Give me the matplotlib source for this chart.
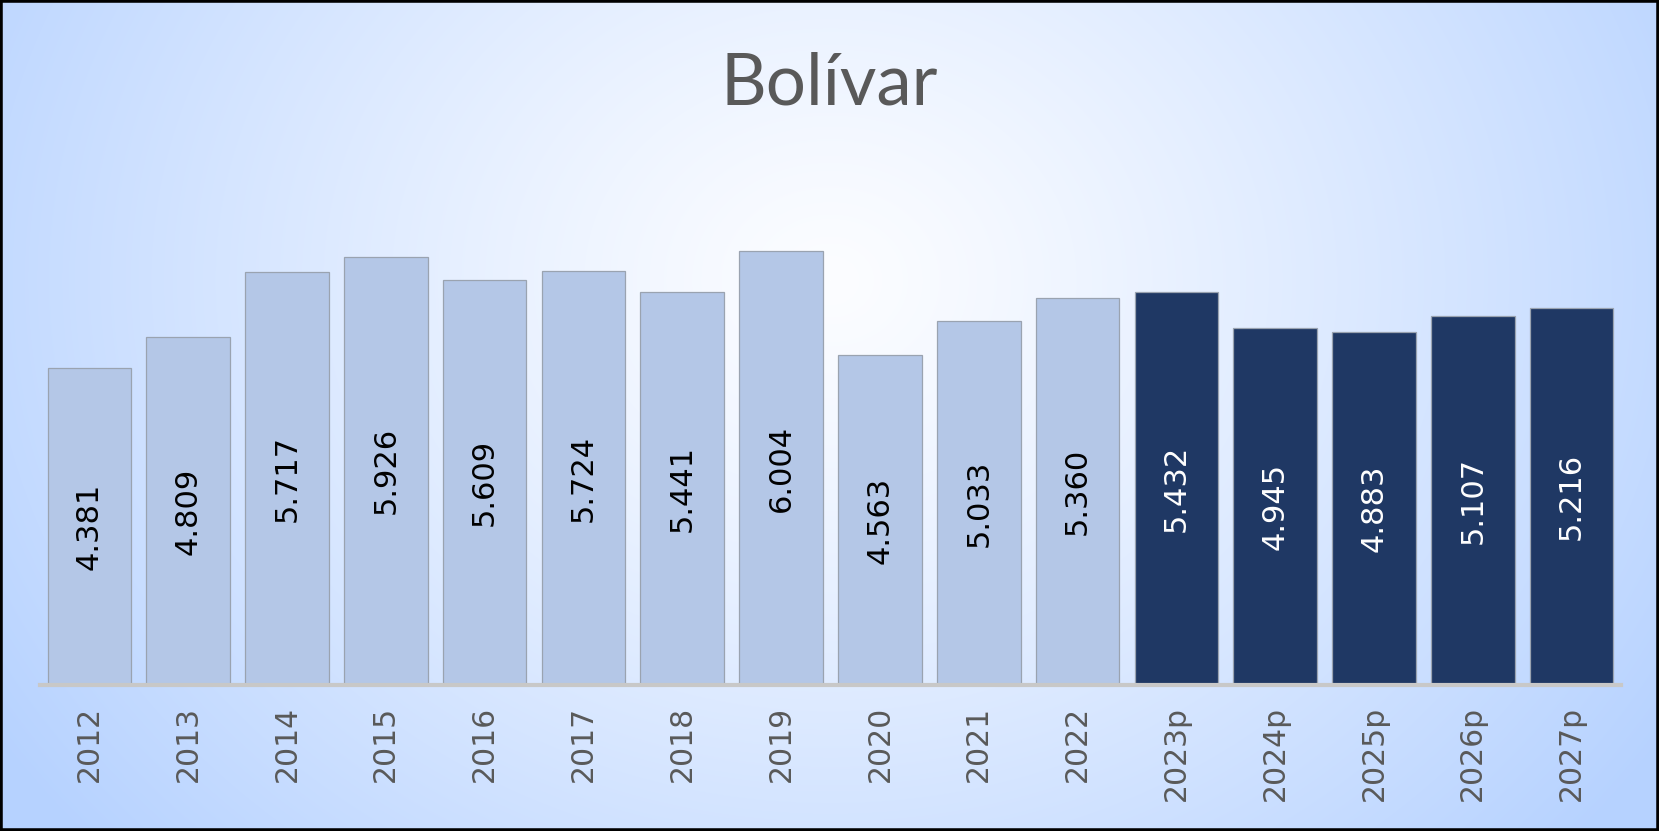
import numpy as np
import matplotlib
matplotlib.use("Agg")
from matplotlib import pyplot as plt
from matplotlib.patches import Rectangle

# data
years = ["2012", "2013", "2014", "2015", "2016", "2017", "2018", "2019",
         "2020", "2021", "2022", "2023p", "2024p", "2025p", "2026p", "2027p"]
values = [4.381, 4.809, 5.717, 5.926, 5.609, 5.724, 5.441, 6.004,
          4.563, 5.033, 5.360, 5.432, 4.945, 4.883, 5.107, 5.216]
projected = [False] * 11 + [True] * 5

light = "#B4C7E7"
dark = "#1F3864"

fig = plt.figure(figsize=(16.59, 8.31), dpi=100)

# background radial gradient
bg = fig.add_axes([0, 0, 1, 1])
h, w = 831, 1659
yy, xx = np.mgrid[0:h, 0:w]
r = np.sqrt(((xx - 830) / 1000.0) ** 2 + ((yy - 280) / 850.0) ** 2)
r = np.clip(r, 0, 1) ** 1.2
c0 = np.array([252, 253, 255]) / 255.0
c1 = np.array([182, 210, 255]) / 255.0
img = c0[None, None, :] * (1 - r[..., None]) + c1[None, None, :] * r[..., None]
bg.imshow(img, aspect="auto", extent=[0, 1, 0, 1], origin="upper")
bg.set_xlim(0, 1)
bg.set_ylim(0, 1)
bg.axis("off")

ax = fig.add_axes([40 / 1659, 1 - 685 / 831, (1621 - 40) / 1659, (685 - 130) / 831])
ax.patch.set_alpha(0)

x = np.arange(len(years))
colors = [dark if p else light for p in projected]
ax.bar(x, values, width=0.846, color=colors, edgecolor="#9AA3B0", linewidth=0.9, zorder=2)

for xi, v, p in zip(x, values, projected):
    ax.text(xi, v / 2, f"{v:.3f}", rotation=90, ha="center", va="center",
            fontsize=22, color="white" if p else "black", family="DejaVu Sans", zorder=3)

ax.set_xlim(-0.5, len(years) - 0.5)
ax.set_ylim(0, 7.68)
ax.set_yticks([])
ax.set_xticks(x)
ax.set_xticklabels(years, rotation=90, fontsize=21.5, color="#595959")
ax.tick_params(axis="x", length=0, pad=15)
for s in ["top", "right", "left"]:
    ax.spines[s].set_visible(False)
ax.spines["bottom"].set_color("#C8C8C8")
ax.spines["bottom"].set_linewidth(3)

fig.text(0.5, 1 - 84 / 831, "Bolívar", ha="center", va="center",
         fontsize=51, color="#595959", family=["Lato", "DejaVu Sans"])

fig.patches.append(Rectangle((0, 0), 1, 1, transform=fig.transFigure,
                             fill=False, edgecolor="black", linewidth=4))

fig.savefig("out.png", dpi=100)
